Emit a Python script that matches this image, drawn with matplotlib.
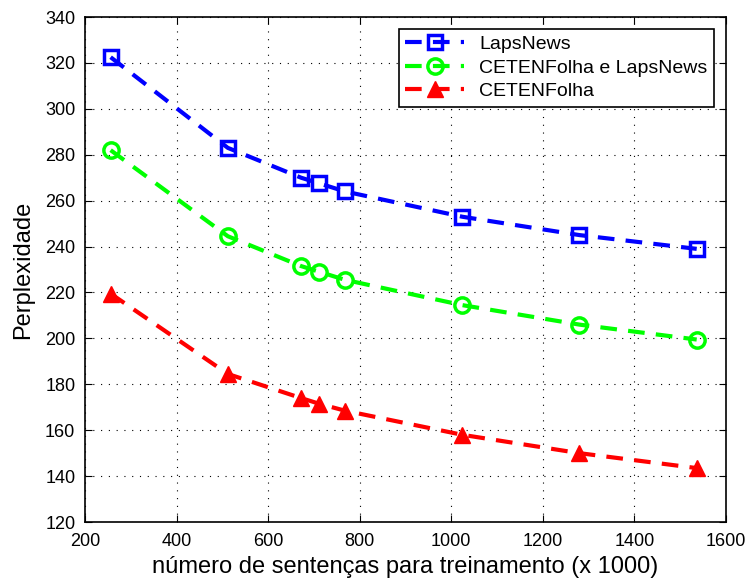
import matplotlib
matplotlib.use("Agg")
import matplotlib.pyplot as plt

plt.rcParams['font.family'] = ['Liberation Sans', 'DejaVu Sans']

# dados
sentencas = [256, 512, 672, 712, 768, 1024, 1280, 1536]
laps_news = [322.5, 283, 270, 267.5, 264, 253, 245, 239]
ceten_laps = [282, 244.5, 231.5, 229, 225.5, 214.5, 206, 199.5]
ceten_folha = [219.5, 184.5, 174, 171.5, 168.5, 158, 150, 143.5]

xticks = [200, 400, 600, 800, 1000, 1200, 1400, 1600]
yticks = [120, 140, 160, 180, 200, 220, 240, 260, 280, 300, 320, 340]

fig = plt.figure(figsize=(7.5, 5.81), dpi=100)
ax = fig.add_axes([0.1133, 0.1015, 0.8547, 0.8692])

ax.plot(sentencas, laps_news, '--s', color='#0000ff', lw=3, ms=10,
        mfc='none', mew=2.5, dashes=(4, 2.7), label='LapsNews')
ax.plot(sentencas, ceten_laps, '--o', color='#00ff00', lw=3, ms=11,
        mfc='none', mew=2.5, dashes=(4, 2.7), label='CETENFolha e LapsNews')
ax.plot(sentencas, ceten_folha, '--^', color='#ff0000', lw=3, ms=12,
        mfc='#ff0000', mew=1, dashes=(4, 2.7), label='CETENFolha')

ax.set_xlim(200, 1600)
ax.set_ylim(120, 340)
ax.set_xticks(xticks)
ax.set_yticks(yticks)
ax.tick_params(direction='in', top=True, right=True, labelsize=13,
               length=5)
ax.tick_params(axis='x', pad=8)
ax.tick_params(axis='y', pad=7)
ax.grid(True, linestyle=(0, (1, 6)), color='k', lw=0.8)
for s in ax.spines.values():
    s.set_linewidth(1.2)

ax.set_xlabel('número de sentenças para treinamento (x 1000)', fontsize=17,
              labelpad=4)
ax.set_ylabel('Perplexidade', fontsize=17, labelpad=8)

leg = ax.legend(loc='upper right', fontsize=14, fancybox=False,
                edgecolor='k', framealpha=1, handlelength=3,
                borderaxespad=0.6, borderpad=0.35, labelspacing=0.3)
leg.get_frame().set_linewidth(1.2)

fig.savefig('out.png', dpi=100)
